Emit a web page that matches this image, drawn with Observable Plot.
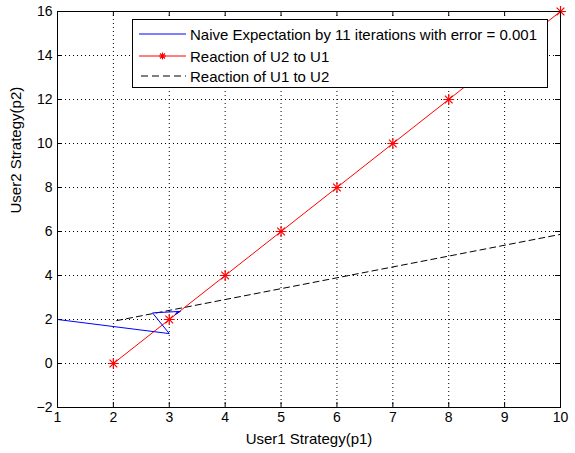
<!DOCTYPE html>
<html>
<head>
<meta charset="utf-8">
<script src="https://cdn.jsdelivr.net/npm/d3@7"></script>
<script src="https://cdn.jsdelivr.net/npm/@observablehq/plot@0.6"></script>
<style>
  html, body { margin: 0; padding: 0; background: #fff; }
  #wrap { position: relative; width: 575px; height: 453px; font-family: "Liberation Sans", Arial, sans-serif; }
  #legend { position: absolute; left: 132px; top: 19px; width: 416px; height: 69px; background: #fff; border: 1px solid #000; box-sizing: border-box; font-size: 15px; }
  .row { position: absolute; left: 6px; height: 20px; display: flex; align-items: center; }
  .row span { margin-left: 3px; white-space: nowrap; color: #000; }
</style>
</head>
<body>
<div id="wrap"></div>
<script>
// Data
const xTicks = [1, 2, 3, 4, 5, 6, 7, 8, 9, 10];
const yTicks = [-2, 0, 2, 4, 6, 8, 10, 12, 14, 16];

// Naive expectation (blue)
const naiveX = [1, 3.0, 2.7, 3.2, 3.1, 3.16, 3.12, 3.14];
const naiveY = [2, 1.36, 2.30, 2.37, 2.22, 2.33, 2.28, 2.31];

// Reaction of U2 to U1 (red, markers)
const u2X = [2, 3, 4, 5, 6, 7, 8, 9, 10];
const u2Y = [0, 2, 4, 6, 8, 10, 12, 14, 16];

// Reaction of U1 to U2 (black dashed)
const u1X = [2.06, 10];
const u1Y = [1.95, 5.87];

const labelX = "User1 Strategy(p1)";
const labelY = "User2 Strategy(p2)";
const legendLabels = [
  "Naive Expectation by 11 iterations with error = 0.001",
  "Reaction of U2 to U1",
  "Reaction of U1 to U2"
];

const naive = naiveX.map((x, i) => ({x, y: naiveY[i]}));
const u2 = u2X.map((x, i) => ({x, y: u2Y[i]}));
const u1 = u1X.map((x, i) => ({x, y: u1Y[i]}));

const W = 575, H = 453;
const mL = 57, mR = 15, mT = 11, mB = 46;
const innerH = H - mT - mB, innerW = W - mL - mR;
const font = "Liberation Sans, Arial, sans-serif";

const chart = Plot.plot({
  width: W,
  height: H,
  marginLeft: mL,
  marginRight: mR,
  marginTop: mT,
  marginBottom: mB,
  style: {fontFamily: font, fontSize: "14px", background: "#fff", color: "#000"},
  x: {domain: [1, 10]},
  y: {domain: [-2, 16]},
  marks: [
    // dotted grid
    Plot.ruleX(xTicks.slice(1, -1), {stroke: "#000", strokeDasharray: "1,3", strokeWidth: 1}),
    Plot.ruleY(yTicks.slice(1, -1), {stroke: "#000", strokeDasharray: "1,3", strokeWidth: 1}),
    // inward ticks on all four sides
    Plot.ruleX(xTicks, {stroke: "#000", insetTop: innerH - 5}),
    Plot.ruleX(xTicks, {stroke: "#000", insetBottom: innerH - 5}),
    Plot.ruleY(yTicks, {stroke: "#000", insetRight: innerW - 5}),
    Plot.ruleY(yTicks, {stroke: "#000", insetLeft: innerW - 5}),
    Plot.axisX({ticks: xTicks, tickSize: 0, tickPadding: 5, label: null, fontSize: 14}),
    Plot.axisY({ticks: yTicks, tickSize: 0, tickPadding: 5, label: null, fontSize: 14}),
    // series
    Plot.line(u1, {x: "x", y: "y", stroke: "#000", strokeDasharray: "6,4", strokeWidth: 1}),
    Plot.line(u2, {x: "x", y: "y", stroke: "#ff0000", strokeWidth: 1}),
    Plot.dot(u2, {x: "x", y: "y", symbol: "plus", stroke: "#ff0000", r: 3.6, strokeWidth: 1.2}),
    Plot.dot(u2, {x: "x", y: "y", symbol: "times", stroke: "#ff0000", r: 3.6, strokeWidth: 1.2}),
    Plot.line(naive, {x: "x", y: "y", stroke: "#0000ff", strokeWidth: 1}),
    Plot.frame({stroke: "#000"}),
    // axis titles
    Plot.text([labelX], {text: d => d, frameAnchor: "bottom", dy: 36, fontSize: 15, fill: "#000"}),
    Plot.text([labelY], {text: d => d, frameAnchor: "left", rotate: -90, dx: -41, dy: 4, fontSize: 15, fill: "#000"})
  ]
});

const wrap = document.getElementById("wrap");
wrap.appendChild(chart);

// legend
const legend = document.createElement("div");
legend.id = "legend";
const samples = [
  `<line x1="0" y1="7" x2="47" y2="7" stroke="#0000ff" stroke-width="1"/>`,
  `<line x1="0" y1="7" x2="47" y2="7" stroke="#ff0000" stroke-width="1"/><path d="M23.5,3.5V10.5M20,7H27M21,4.5L26,9.5M26,4.5L21,9.5" stroke="#ff0000" stroke-width="1.1"/>`,
  `<line x1="2" y1="7" x2="47" y2="7" stroke="#000" stroke-width="1" stroke-dasharray="7,4"/>`
];
const tops = [4, 26, 46];
legendLabels.forEach((t, i) => {
  const row = document.createElement("div");
  row.className = "row";
  row.style.top = tops[i] + "px";
  row.innerHTML = `<svg width="48" height="14">${samples[i]}</svg><span>${t}</span>`;
  legend.appendChild(row);
});
wrap.appendChild(legend);
</script>
</body>
</html>
